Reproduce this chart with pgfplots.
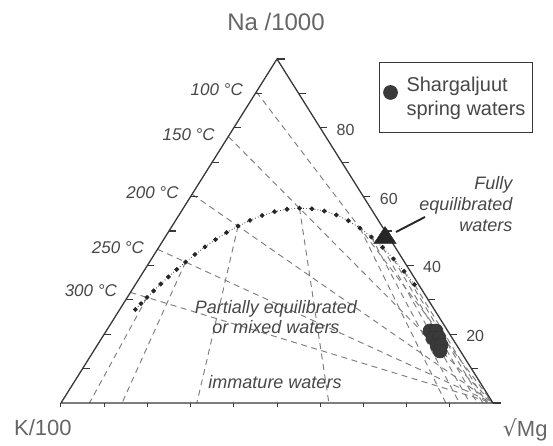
\documentclass[border=0pt]{standalone}
\usepackage{fontspec}
\setmainfont{Liberation Sans}
\newfontfamily\djv{DejaVu Sans}
\usepackage{pgfplots}
\usepackage{pgfplotstable}
\pgfplotsset{compat=1.18}
\definecolor{edge}{HTML}{383838}
\definecolor{txt}{HTML}{474747}
\definecolor{ttl}{HTML}{666666}
\definecolor{dashc}{HTML}{7E7E7E}
\definecolor{spring}{HTML}{3A3A3A}

% ternary (Na%, Mg%) -> cartesian position in the triangle K(0,0) Mg(1,0) Na(0.5,1)
\pgfplotsset{/pgfplots/table/tern/.style={x expr={(\thisrow{Mg}+0.5*\thisrow{Na})/100}, y expr={\thisrow{Na}/100}}}
\pgfplotsset{iso/.style={forget plot, color=dashc, line width=0.95pt, dash pattern=on 6pt off 4.5pt}}

% full equilibrium line (Na/1000, K/100, sqrt Mg in %), 50-320 C
\pgfplotstableread{
T Na Mg
50 34.44 64.60
60 38.28 60.28
70 41.90 56.01
80 45.26 51.81
90 48.25 47.73
100 50.85 43.78
110 53.00 40.01
120 54.65 36.42
130 55.81 33.04
140 56.46 29.86
150 56.63 26.90
160 56.33 24.15
170 55.61 21.62
180 54.51 19.30
190 53.10 17.19
200 51.42 15.28
210 49.54 13.56
220 47.50 12.02
230 45.37 10.64
240 43.18 9.42
250 40.98 8.34
260 38.81 7.38
270 36.66 6.53
280 34.59 5.79
290 32.60 5.14
300 30.69 4.57
310 28.89 4.06
320 27.17 3.62
}\curve

\pgfplotstableread{
Na Mg
20.93 74.95
20.93 76.34
18.90 76.66
18.90 78.05
16.86 78.61
16.86 79.53
15.12 80.17
}\springs

\begin{document}
\begin{tikzpicture}
\begin{axis}[scale only axis, width=553pt, height=445pt,
  xmin=-0.1412, xmax=1.1389, ymin=-0.1221, ymax=1.1715,
  axis lines=none, clip=false,
  legend style={at={(rel axis cs:0.6854,0.8607)}, anchor=north west, draw=edge, line width=1pt, fill=white,
    inner xsep=4pt, inner ysep=12pt, column sep=6pt, font=\fontsize{20}{24}\selectfont, text=txt,
    nodes={align=left, inner sep=3pt}},
  legend cell align=left,
  legend image code/.code={\draw[#1] plot coordinates {(0pt,5pt)};},
]
\coordinate (SW) at (rel axis cs:0,0);
\coordinate (NE) at (rel axis cs:1,1);

% Na-K isotherms (to sqrt Mg corner)
\addplot[iso] table[tern, row sep=\\] {Na Mg\\ 90.45 0\\ 0 100\\};
\addplot[iso] table[tern, row sep=\\] {Na Mg\\ 77.46 0\\ 0 100\\};
\addplot[iso] table[tern, row sep=\\] {Na Mg\\ 60.69 0\\ 0 100\\};
\addplot[iso] table[tern, row sep=\\] {Na Mg\\ 44.70 0\\ 0 100\\};
\addplot[iso] table[tern, row sep=\\] {Na Mg\\ 32.16 0\\ 0 100\\};
% K-Mg isotherms (from equilibrium line to K-Mg side)
\addplot[iso] table[tern, row sep=\\] {Na Mg\\ 34.44 64.60\\ 0 98.54\\};
\addplot[iso] table[tern, row sep=\\] {Na Mg\\ 38.28 60.28\\ 0 97.67\\};
\addplot[iso] table[tern, row sep=\\] {Na Mg\\ 41.90 56.01\\ 0 96.40\\};
\addplot[iso] table[tern, row sep=\\] {Na Mg\\ 45.26 51.81\\ 0 94.65\\};
\addplot[iso] table[tern, row sep=\\] {Na Mg\\ 48.25 47.73\\ 0 92.24\\};
\addplot[iso] table[tern, row sep=\\] {Na Mg\\ 50.85 43.78\\ 0 89.08\\};
\addplot[iso] table[tern, row sep=\\] {Na Mg\\ 56.63 26.90\\ 0 62.01\\};
\addplot[iso] table[tern, row sep=\\] {Na Mg\\ 51.42 15.28\\ 0 31.45\\};
\addplot[iso] table[tern, row sep=\\] {Na Mg\\ 40.98 8.34\\ 0 14.13\\};
\addplot[iso] table[tern, row sep=\\] {Na Mg\\ 30.69 4.57\\ 0 6.59\\};

% triangle frame
\addplot[forget plot, color=edge, line width=1.3pt, line join=round] coordinates {(0,0) (1,0) (0.5,1) (0,0)};
\pgfplotsinvokeforeach{1,2,3,4,5,6,7,8,9}{
  \draw[edge, line width=1.3pt] (axis cs:{#1*0.05},{#1*0.1}) -- ++(7pt,0pt);
  \draw[edge, line width=1.3pt] (axis cs:{1-#1*0.05},{#1*0.1}) -- ++(7pt,0pt);
  \draw[edge, line width=1pt] (axis cs:{#1*0.1},0) -- ++(0pt,-4pt);
}
\draw[edge, line width=1.3pt] (axis cs:0.5,1) -- ++(8pt,0pt);
\draw[edge, line width=1.3pt] (axis cs:1,0) -- ++(8pt,0pt);
\draw[edge, line width=1pt] (axis cs:0,0) -- ++(0pt,-4pt);

% full equilibrium line
\addplot[forget plot, color=black!80, line width=0.9pt, dash pattern=on 0.7pt off 2.2pt,
  mark=*, mark size=1.9pt, mark options={solid, fill=black!85, draw=black!85}] table[tern] {\curve};

% fully equilibrated marker + arrow
\draw[black!85, line width=1.9pt] (axis cs:0.8426,0.5407) -- (axis cs:0.7755,0.4971);
\addplot[forget plot, only marks, mark=triangle*, mark size=13pt,
  mark options={fill=black!85, draw=black!85, yscale=0.88}] table[tern, row sep=\\] {Na Mg\\ 47.97 51.02\\};

% Shargaljuut springs
\addplot[only marks, mark=*, mark size=7pt, mark options={fill=spring, draw=black!80, line width=0.6pt}] table[tern] {\springs};
\addlegendentry{Shargaljuut\\spring waters\hspace{7pt}}

% temperature labels
\tikzset{tlab/.style={anchor=east, font=\itshape\fontsize{17}{20}\selectfont, text=txt, xshift=-10pt, yshift=2pt}}
\node[tlab] at (axis cs:0.45225,0.9045) {100 °C};
\node[tlab] at (axis cs:0.3873,0.7746) {150 °C};
\node[tlab] at (axis cs:0.30345,0.6069) {200 °C};
\node[tlab] at (axis cs:0.2235,0.4470) {250 °C};
\node[tlab] at (axis cs:0.1608,0.3216) {300 °C};

% Na % scale on right edge
\tikzset{rlab/.style={anchor=west, font=\fontsize{16}{18}\selectfont, text=txt, xshift=13pt, yshift=-2pt}}
\node[rlab] at (axis cs:0.6,0.8) {80};
\node[rlab] at (axis cs:0.7,0.6) {60};
\node[rlab] at (axis cs:0.8,0.4) {40};
\node[rlab] at (axis cs:0.9,0.2) {20};

% corner titles
\node[font=\fontsize{24}{28}\selectfont, text=ttl] at (axis cs:0.4977,1.1076) {Na /1000};
\node[font=\fontsize{22}{26}\selectfont, text=ttl] at (axis cs:-0.042,-0.0727) {K/100};
\node[anchor=east, font=\fontsize{22}{26}\selectfont, text=ttl] at (axis cs:1.1343,-0.0785) {{\djv √}Mg};

% region labels
\node[align=center, font=\itshape\fontsize{18}{20}\selectfont, text=txt] at (axis cs:0.4977,0.2509) {Partially equilibrated\\or mixed waters};
\node[font=\itshape\fontsize{18}{20}\selectfont, text=txt] at (axis cs:0.4954,0.0619) {immature waters};
\node[anchor=east, align=right, font=\itshape\fontsize{18}{21}\selectfont, text=txt] at (axis cs:1.0532,0.5785) {Fully\\equilibrated\\waters};
\end{axis}
\pgfresetboundingbox
\useasboundingbox (SW) rectangle (NE);
\end{tikzpicture}
\end{document}
